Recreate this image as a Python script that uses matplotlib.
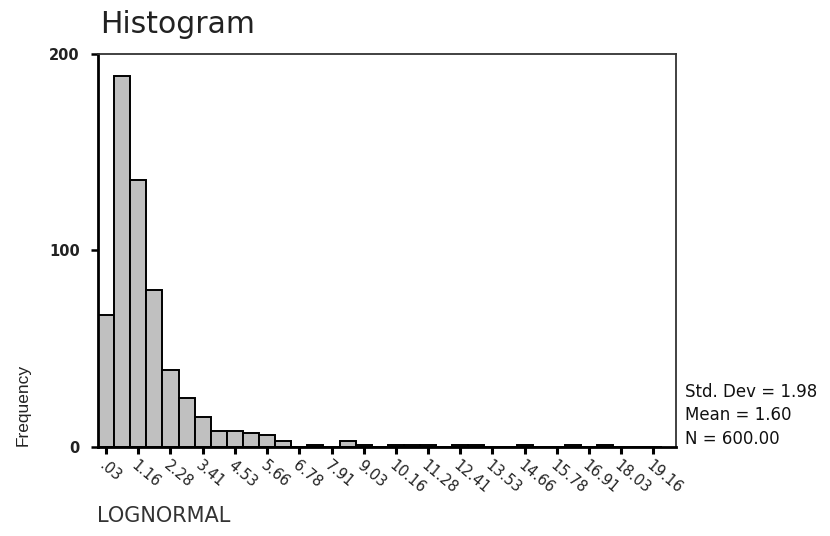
import matplotlib
matplotlib.use("Agg")
import matplotlib.pyplot as plt
import numpy as np

# tick labels shown under every second bin (bin centres)
tick_labels = [".03", "1.16", "2.28", "3.41", "4.53", "5.66", "6.78", "7.91", "9.03",
               "10.16", "11.28", "12.41", "13.53", "14.66", "15.78", "16.91", "18.03", "19.16"]
# frequency of each bin
counts = [67, 189, 136, 80, 39, 25, 15, 8, 8, 7, 6, 3, 0, 1, 0, 3, 1, 0, 1, 1,
          1, 0, 1, 1, 0, 0, 1, 0, 0, 1, 0, 1, 0, 0, 0]
stats_lines = ["Std. Dev = 1.98", "Mean = 1.60", "N = 600.00"]

tick_vals = np.array([float(t) for t in tick_labels])
bin_w = (tick_vals[-1] - tick_vals[0]) / (len(counts) - 1)
centers = tick_vals[0] + bin_w * np.arange(len(counts))

fig = plt.figure(figsize=(8.3, 5.36), dpi=100)
ax = fig.add_axes([0.1181, 0.1666, 0.6964, 0.7327])

ax.bar(centers, counts, width=bin_w, color="#c0c0c0", edgecolor="black",
       linewidth=1.4, zorder=2)

ax.set_xlim(tick_vals[0] - bin_w / 2, tick_vals[-1] + 1.4 * bin_w)
ax.set_ylim(0, 200)

ax.set_xticks(tick_vals)
ax.set_xticklabels(tick_labels, rotation=-40, ha="left", rotation_mode="anchor",
                   fontsize=10.5, family="DejaVu Sans", color="#222222")
ax.set_yticks([0, 100, 200])
ax.set_yticklabels(["0", "100", "200"], fontsize=10.5, fontweight="bold",
                   family="DejaVu Sans", color="#222222")
ax.tick_params(axis="x", direction="out", length=5, width=2.2, pad=3)
ax.tick_params(axis="y", direction="out", length=5, width=1.8, pad=8)

for side in ("left", "bottom"):
    ax.spines[side].set_linewidth(2.0)
    ax.spines[side].set_color("black")
for side in ("top", "right"):
    ax.spines[side].set_linewidth(1.3)
    ax.spines[side].set_color("#333333")

fig.text(0.1205, 0.938, "Histogram", fontsize=21.5, family="DejaVu Sans",
         color="#222222", va="baseline", ha="left")
fig.text(0.028, 0.245, "Frequency", rotation=90, fontsize=12.5,
         family="Liberation Sans", color="#222222", ha="center", va="center")
fig.text(0.1165, 0.027, "LOGNORMAL", fontsize=15, family="DejaVu Sans",
         color="#333333", va="baseline", ha="left")

for i, line in enumerate(stats_lines):
    fig.text(0.825, 1 - (397 + i * 23.5) / 536, line, fontsize=12,
             family="DejaVu Sans", color="#111111", va="baseline", ha="left")

fig.savefig("out.png", dpi=100)
